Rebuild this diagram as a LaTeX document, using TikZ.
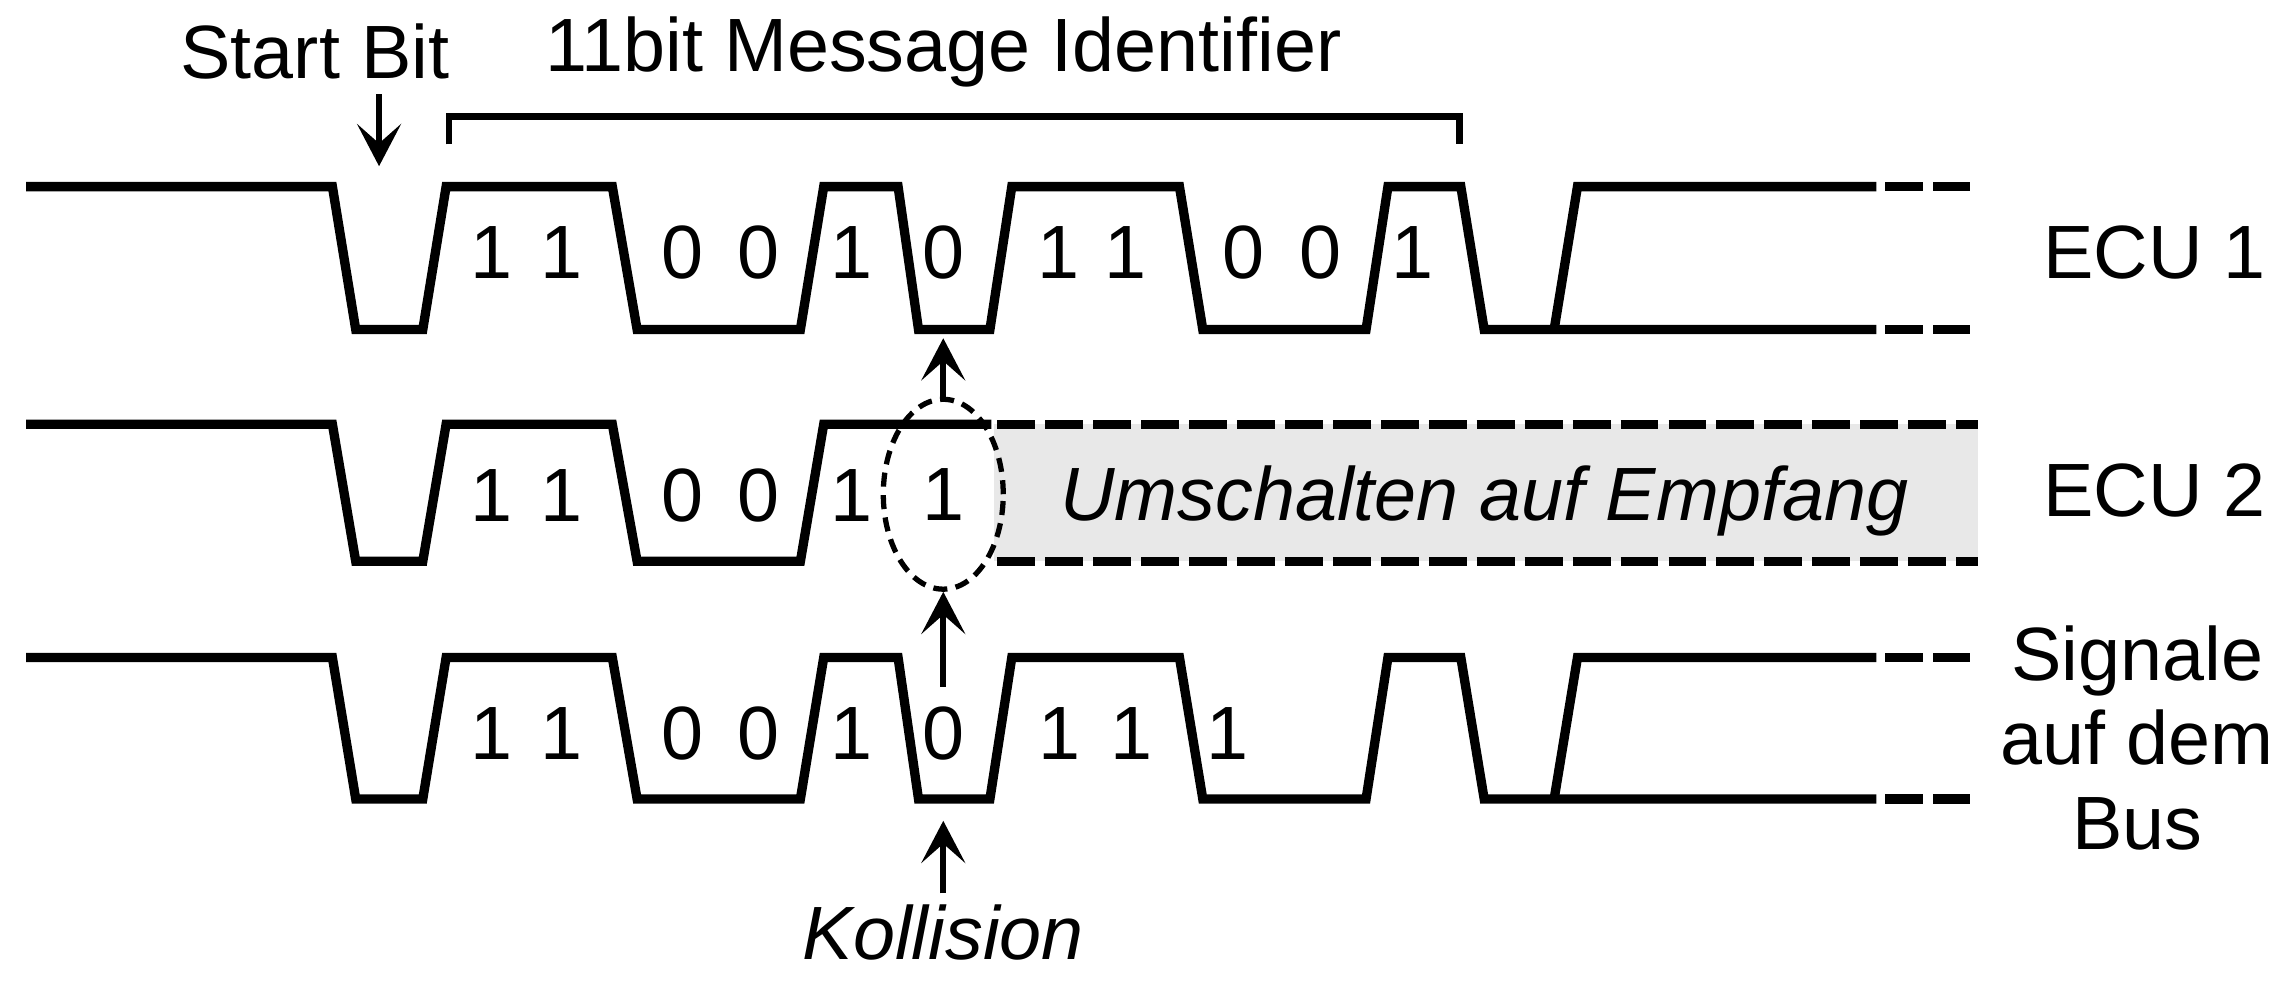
\documentclass[tikz,border=0pt]{standalone}
\usepackage{fontspec}
\setmainfont{Liberation Sans}
\usepackage{tikz}
\usetikzlibrary{arrows.meta}
\usetikzlibrary{positioning}
\usetikzlibrary{shapes.geometric}
\definecolor{empfgrau}{gray}{0.91}

\begin{document}
\begin{tikzpicture}[x=0.01458cm,y=-0.01458cm,
  txt/.style={font=\fontsize{21.5pt}{24pt}\selectfont,inner sep=0pt},
  bit/.style={txt,anchor=base},
  kursiv/.style={txt,font=\fontsize{21.5pt}{24pt}\selectfont\itshape},
  wave/.style={line width=2.65pt,line join=miter},
  tail/.style={wave,dash pattern=on 10.8pt off 2.85pt},
  pfeil/.style={line width=1.6pt,-{Stealth[length=12pt,width=12.5pt,inset=5.5pt]}},
  klammer/.style={line width=1.8pt},
  ring/.style={ellipse,draw,line width=1.5pt,dash pattern=on 4pt off 2.4pt,txt,minimum width=1.2cm,minimum height=1.9cm}]
\useasboundingbox (0,0) rectangle (1568,674);
%\draw[red] (0,0) rectangle (1568,674);

% labels
\path node[txt,anchor=base,inner sep=4pt] (sb) at (216,54) {Start Bit};
\path node[txt,anchor=base] (id) at (647,49) {11bit Message Identifier};
\path node[txt,anchor=base] (ecu1) at (1478,191) {ECU 1};
\path node[txt,anchor=base] (ecu2) at (1478,354) {ECU 2};
\path node[txt,align=center] (bus) at (1466,506) {Signale\\auf dem\\Bus};
\path node[kursiv,anchor=base,inner sep=3pt] (koll) at (647,658) {Kollision};

% identifier bracket
\coordinate (idl) at (308,99);
\coordinate (idr) at (1001,99);
\path[klammer,draw] (idl) -- ++(0,-19) -| (idr);

% ECU 1 and bus
\foreach \hi/\lo in {128/226,451/548}{
  \draw[wave] (18,\hi) -- (228,\hi) -- (244,\lo) -- (290,\lo) -- (306,\hi) -- (420,\hi) -- (437,\lo) -- (549,\lo) -- (565,\hi) -- (616,\hi) -- (630,\lo) -- (679,\lo) -- (694,\hi) -- (809,\hi) -- (825,\lo) -- (937,\lo) -- (952,\hi) -- (1002,\hi) -- (1018,\lo) -- (1287,\lo);
  \draw[wave] (1066,\lo) -- (1082,\hi) -- (1287,\hi);
  \draw[tail] (1293,\hi) -- (1351,\hi) (1293,\lo) -- (1351,\lo);
}

% ECU 2
\fill[empfgrau] (682,291) rectangle (1357,385);
\draw[wave] (18,291) -- (228,291) -- (244,385) -- (290,385) -- (306,291) -- (420,291) -- (437,385) -- (549,385) -- (565,291) -- (680,291);
\draw[tail] (684,291) -- (1357,291) (684,385) -- (1357,385);
\path node[kursiv,anchor=base] (umsch) at (1018,357) {Umschalten auf Empfang};

% bits
\foreach \x/\b in {337/1,385/1,468/0,520/0,584/1,647/0,726/1,772/1,853/0,906/0,969/1}
  \path node[bit] (a\x) at (\x,191) {\b};
\foreach \x/\b in {337/1,385/1,468/0,520/0,584/1}
  \path node[bit] (b\x) at (\x,358) {\b};
\foreach \x/\b in {337/1,385/1,468/0,520/0,584/1,647/0,727/1,776/1,842/1}
  \path node[bit] (c\x) at (\x,521) {\b};
\path node[ring] (ring) at (647,339) {1};

% arrows
\coordinate (sbtip) at (260,114);
\coordinate (hit1) at (647,232);
\coordinate (hit2) at (647,471);
\coordinate (hit3) at (647,563);
\path[pfeil] (sb.south -| sbtip) edge (sbtip);
\path[pfeil] (ring.north) edge (hit1);
\path[pfeil] (hit2) edge (ring.south);
\path[pfeil] (koll.north) edge (hit3);
\end{tikzpicture}
\end{document}
